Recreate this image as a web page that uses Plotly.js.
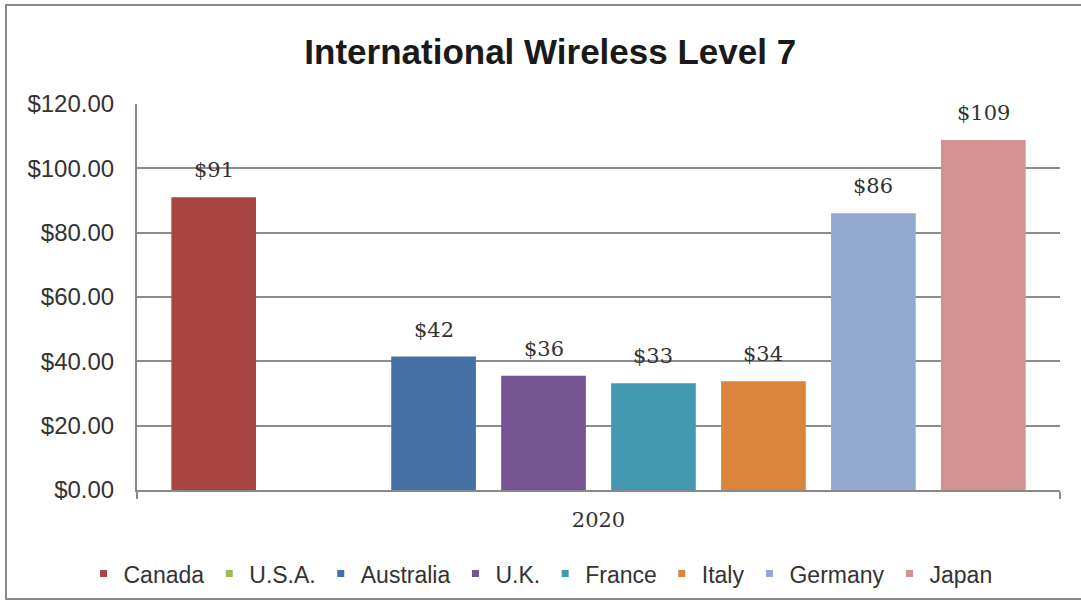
<!DOCTYPE html>
<html>
<head>
<meta charset="utf-8">
<script src="https://cdn.plot.ly/plotly-3.0.1.min.js"></script>
<style>
  html, body { margin: 0; padding: 0; background: #fff; }
  #wrap { position: relative; width: 1081px; height: 607px; }
  #chart { position: absolute; left: 0; top: 0; width: 1081px; height: 607px; }
  #frame { position: absolute; left: 5px; top: 4px; width: 1080px; height: 592px;
           border: 2px solid #8a8a8a; border-right: none; pointer-events: none; }
</style>
</head>
<body>
<div id="wrap">
  <div id="chart"></div>
  <div id="frame"></div>
</div>
<script>
const categories = ["2020"];
const countries = ["Canada", "U.S.A.", "Australia", "U.K.", "France", "Italy", "Germany", "Japan"];
const values = [91, null, 41.5, 35.5, 33.2, 33.8, 86, 108.8];
const labels = ["$91", "", "$42", "$36", "$33", "$34", "$86", "$109"];
const colors = ["#A84442", "#9BBB59", "#4470A5", "#745591", "#4299B0", "#DB843C", "#93A9D0", "#D29291"];
const yTicks = [0, 20, 40, 60, 80, 100, 120];

const BARGAP = 0.047;
const BARGROUPGAP = 0.23;

const traces = [];
countries.forEach((c, i) => {
  traces.push({
    type: "bar",
    name: c,
    x: categories,
    y: [values[i]],
    marker: { color: colors[i], line: { width: 0 } },
    showlegend: false,
    hoverinfo: "skip"
  });
});
countries.forEach((c, i) => {
  traces.push({
    type: "scatter",
    mode: "markers",
    name: c,
    x: [null],
    y: [null],
    marker: { symbol: "square", size: 7, color: colors[i] },
    showlegend: true,
    hoverinfo: "skip"
  });
});

// value labels above each bar, positioned at the bar's slot within the group
const n = countries.length;
const slot = (1 - BARGAP) / n;
const annotations = [];
countries.forEach((c, i) => {
  if (values[i] === null) return;
  annotations.push({
    xref: "x", yref: "y",
    x: -(1 - BARGAP) / 2 + (i + 0.5) * slot,
    y: values[i],
    text: labels[i],
    showarrow: false,
    yanchor: "bottom",
    xanchor: "center",
    yshift: 13,
    font: { family: "DejaVu Serif", size: 21, color: "#333" }
  });
});

const layout = {
  width: 1081,
  height: 607,
  margin: { l: 137, r: 21, t: 104, b: 117 },
  paper_bgcolor: "#fff",
  plot_bgcolor: "#fff",
  font: { family: "Liberation Sans, Arial, sans-serif", color: "#333" },
  title: {
    text: "<b>International Wireless Level 7</b>",
    font: { family: "Liberation Sans, Arial, sans-serif", size: 35, color: "#1a1a1a" },
    xref: "container", x: 0.509, xanchor: "center",
    yref: "container", y: 0.915, yanchor: "middle"
  },
  barmode: "group",
  bargap: BARGAP,
  bargroupgap: BARGROUPGAP,
  annotations: annotations,
  xaxis: {
    type: "category",
    range: [-0.5, 0.5],
    tickson: "boundaries",
    ticks: "outside",
    ticklen: 7,
    tickcolor: "#888",
    tickwidth: 2,
    showline: true,
    linecolor: "#888",
    linewidth: 2,
    showgrid: false,
    tickfont: { family: "DejaVu Serif", size: 21, color: "#333" },
    ticklabelstandoff: 10,
    fixedrange: true
  },
  yaxis: {
    range: [0, 120],
    tickvals: yTicks,
    tickformat: "$.2f",
    ticks: "",
    showline: true,
    linecolor: "#888",
    linewidth: 2,
    showgrid: true,
    gridcolor: "#8c8c8c",
    gridwidth: 2,
    zeroline: false,
    tickfont: { family: "Liberation Sans, Arial, sans-serif", size: 24, color: "#333" },
    ticklabelstandoff: 16,
    fixedrange: true
  },
  legend: {
    orientation: "h",
    x: 0.5, xanchor: "center", xref: "container",
    y: 0.055, yanchor: "middle", yref: "container",
    font: { family: "Liberation Sans, Arial, sans-serif", size: 23, color: "#333" },
    itemwidth: 30,
    bgcolor: "rgba(0,0,0,0)"
  },
  showlegend: true
};

Plotly.newPlot("chart", traces, layout, { displayModeBar: false, staticPlot: true });
</script>
</body>
</html>
